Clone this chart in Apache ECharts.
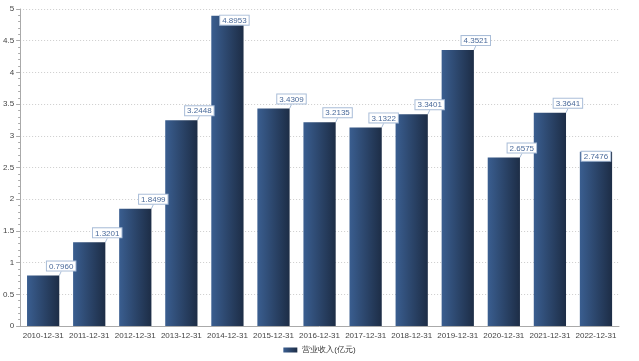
<!DOCTYPE html>
<html><head><meta charset="utf-8">
<script src="https://cdn.jsdelivr.net/npm/echarts@6/dist/echarts.min.js"></script>
<style>html,body{margin:0;padding:0;background:#fff}#c{width:639px;height:361px}</style>
</head><body><div id="c"></div>
<script>
const categories = ['2010-12-31','2011-12-31','2012-12-31','2013-12-31','2014-12-31','2015-12-31','2016-12-31','2017-12-31','2018-12-31','2019-12-31','2020-12-31','2021-12-31','2022-12-31'];
const revenue = [0.7960,1.3201,1.8499,3.2448,4.8953,3.4309,3.2135,3.1322,3.3401,4.3521,2.6575,3.3641,2.7476];
const yTicks = {min:0, max:5, interval:0.5};
const seriesName = '营业收入(亿元)';

const grad = new echarts.graphic.LinearGradient(0,0,1,0,[{offset:0,color:'#3a5e90'},{offset:1,color:'#1d2d46'}]);
const chart = echarts.init(document.getElementById('c'));
chart.setOption({
  animation:false,
  grid:{left:20,right:20,top:9,bottom:35},
  legend:{bottom:2,left:'center',itemWidth:14,itemHeight:5,textStyle:{fontSize:8,color:'#333'},data:[{name:seriesName,icon:'rect'}]},
  xAxis:{type:'category',data:categories,
    axisLine:{lineStyle:{color:'#aaa'}},
    axisTick:{alignWithLabel:true,length:4,lineStyle:{color:'#aaa'}},
    axisLabel:{fontSize:8,color:'#444',margin:6,interval:0}},
  yAxis:{type:'value',min:yTicks.min,max:yTicks.max,interval:yTicks.interval,
    axisLine:{show:true,lineStyle:{color:'#aaa'}},
    axisTick:{show:true,length:4,lineStyle:{color:'#aaa'}},
    minorTick:{show:true,splitNumber:5,length:2,lineStyle:{color:'#aaa'}},
    splitLine:{lineStyle:{color:'#ccc',type:[1,2]}},
    axisLabel:{fontSize:8,color:'#444',margin:6}},
  series:[{type:'bar',name:seriesName,data:revenue,barWidth:'70%',
    itemStyle:{color:grad},
    label:{show:true,position:'top',distance:3,fontSize:8,color:'#4a6a9a',
      backgroundColor:'#fff',borderColor:'#a9bdd8',borderWidth:1,padding:[1,2,0,2],
      formatter:p=>p.value.toFixed(4)},
    labelLine:{show:true,lineStyle:{color:'#a9bdd8',width:1}},
    labelLayout:function(p){
      if(p.dataIndex===4) return {dx:7,dy:12};
      if(p.dataIndex===12) return {dx:0,dy:12};
      return {dx:18,dy:-2};
    }
  }]
});
</script></body></html>
